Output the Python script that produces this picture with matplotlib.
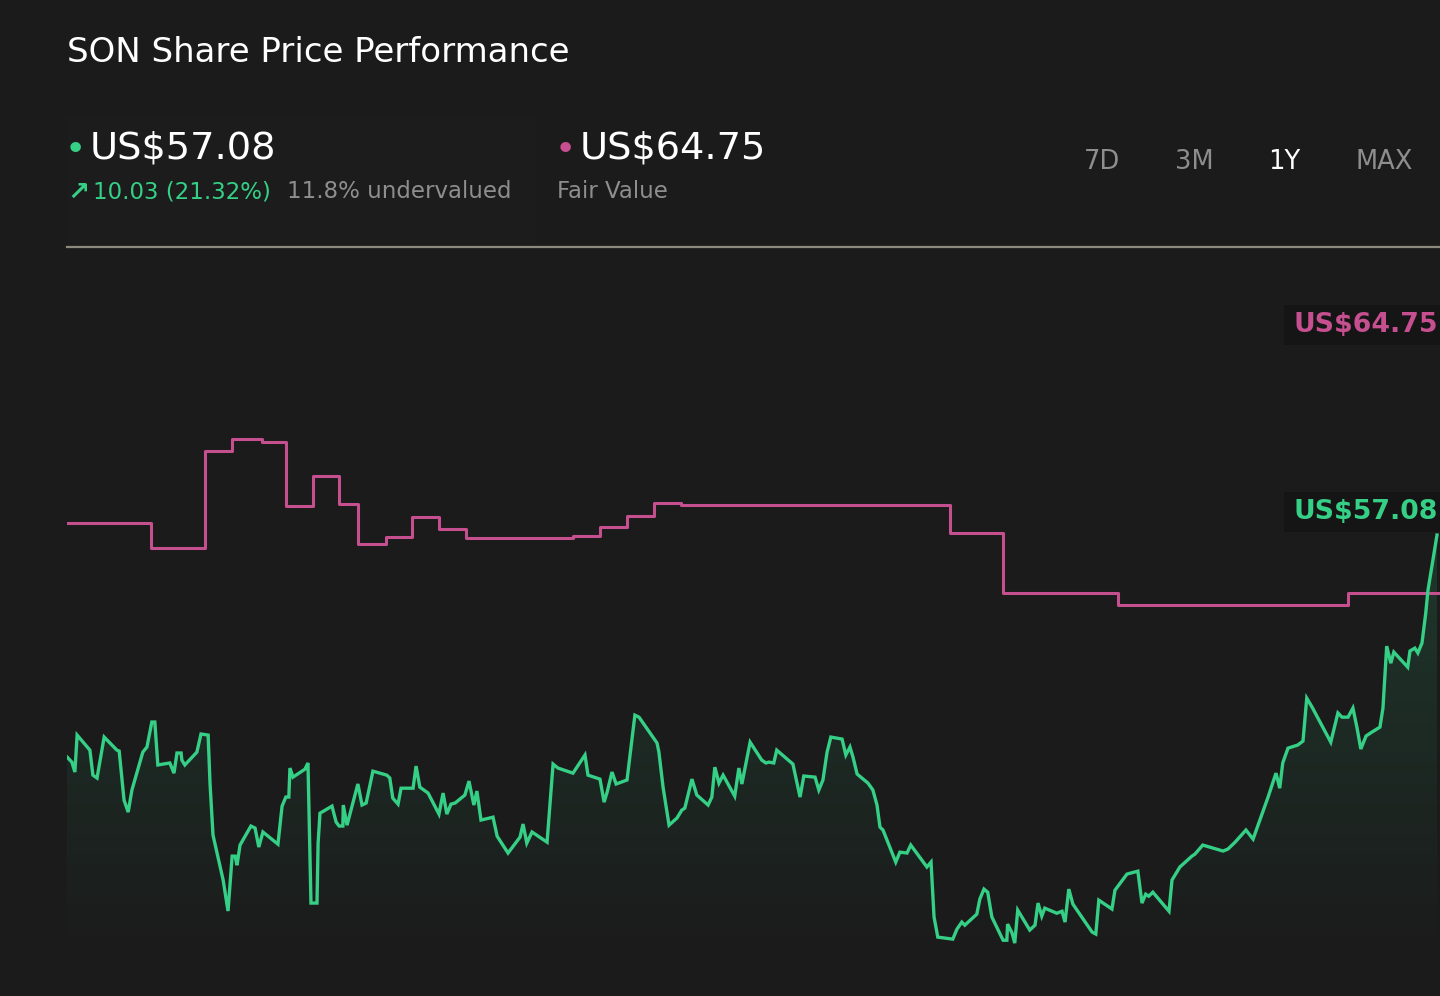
import numpy as np
import matplotlib
matplotlib.use("Agg")
import matplotlib.pyplot as plt
from matplotlib.patches import Rectangle

# ---- data ----
price_days = [0, 1.3, 2.1, 2.7, 6.1, 6.9, 8.0, 9.9, 13.3, 13.9, 15.2, 16.3, 17.3, 20.2, 21.3,
              22.6, 23.4, 24.2, 27.4, 28.5, 29.3, 30.4, 30.6, 31.4, 34.6, 35.7, 37.6, 38.1,
              38.9, 41.6, 42.9, 44.0, 44.8, 45.3, 46.1, 49.0, 50.1, 51.1, 52.2, 56.2, 57.3,
              58.3, 59.1, 59.4, 60.2, 63.4, 64.2, 65.0, 66.6, 66.9, 67.4, 70.6, 71.7, 72.5,
              73.5, 73.6, 74.6, 77.5, 78.6, 79.7, 81.5, 85.2, 86.0, 86.8, 88.2, 89.0, 92.2,
              93.0, 94.0, 96.2, 99.1, 100.2, 101.2, 102.3, 103.4, 106.0, 107.1, 108.4, 109.2,
              110.3, 113.5, 114.6, 117.5, 120.7, 121.5, 122.5, 123.9, 127.9, 129.5, 130.8,
              134.8, 138.0, 138.8, 142.0, 143.1, 143.9, 145.2, 146.3, 149.2, 151.3, 152.4,
              156.1, 157.2, 157.7, 158.8, 160.4, 162.5, 163.8, 164.6, 166.5, 167.8, 170.8,
              171.8, 172.6, 173.7, 174.8, 177.9, 179.0, 179.8, 182.0, 185.1, 186.2, 187.0,
              188.3, 189.1, 193.4, 195.3, 196.3, 199.3, 200.3, 201.4, 202.5, 203.5, 206.5,
              207.5, 208.6, 209.4, 210.5, 213.4, 214.7, 215.8, 216.6, 217.4, 220.8, 221.9,
              223.8, 224.8, 229.1, 230.2, 231.0, 232.0, 236.0, 237.1, 238.4, 239.2, 242.4,
              243.2, 244.3, 245.3, 246.4, 249.4, 250.4, 250.6, 251.8, 252.5, 253.3, 256.5,
              257.9, 258.7, 259.7, 260.5, 263.7, 265.1, 265.9, 266.9, 268.0, 273.1, 274.1,
              274.9, 278.4, 279.2, 282.4, 285.3, 286.4, 287.4, 288.2, 289.3, 293.6, 294.4,
              296.5, 299.7, 300.5, 302.6, 308.0, 309.3, 311.2, 314.1, 316.0, 320.0, 322.1,
              323.1, 323.9, 325.3, 327.9, 329.3, 330.3, 331.7, 336.7, 338.6, 339.7, 341.3,
              342.6, 343.7, 344.7, 346.1, 347.7, 349.8, 350.6, 351.6, 352.7, 353.5, 357.2,
              357.8, 359.1, 359.9, 361.0, 362.0, 362.6, 365.0]
price_vals = [47.05, 46.82, 46.37, 48.04, 47.36, 46.23, 46.10, 47.95, 47.36, 47.32, 45.10,
              44.56, 45.56, 47.27, 47.50, 48.63, 48.63, 46.69, 46.78, 46.32, 47.23, 47.23,
              46.91, 46.69, 47.27, 48.09, 48.04, 45.87, 43.52, 41.49, 40.09, 42.57, 42.57,
              42.16, 43.07, 43.93, 43.84, 42.98, 43.66, 43.11, 44.83, 45.24, 45.24, 46.55,
              46.14, 46.50, 46.78, 40.45, 40.45, 43.16, 44.51, 44.83, 44.11, 43.93, 43.93,
              44.88, 43.97, 45.83, 44.88, 44.97, 46.41, 46.23, 46.10, 45.19, 44.92, 45.64,
              45.64, 46.64, 45.69, 45.42, 44.47, 45.42, 44.47, 44.92, 44.97, 45.33, 45.96,
              44.88, 45.51, 44.20, 44.33, 43.47, 42.71, 43.43, 44.02, 43.16, 43.66, 43.20,
              46.73, 46.55, 46.32, 47.14, 46.23, 46.05, 45.01, 45.46, 46.37, 45.83, 46.01,
              48.94, 48.85, 47.95, 47.68, 47.27, 45.69, 43.97, 44.29, 44.65, 44.74, 46.05,
              45.33, 44.88, 45.24, 46.59, 45.87, 46.23, 45.28, 46.55, 45.83, 47.72, 46.91,
              46.78, 46.82, 46.78, 47.36, 46.73, 45.24, 46.19, 46.14, 45.56, 46.01, 47.27,
              47.95, 47.86, 47.14, 47.50, 47.05, 46.28, 45.87, 45.56, 44.88, 43.88, 43.75,
              42.30, 42.75, 42.71, 43.07, 42.08, 42.30, 39.82, 38.91, 38.82, 39.27, 39.59,
              39.45, 39.95, 40.63, 41.08, 40.94, 39.82, 38.77, 38.77, 39.50, 39.09, 38.64,
              40.13, 39.23, 39.45, 40.45, 39.86, 40.22, 39.99, 40.08, 39.59, 41.08, 40.40,
              39.14, 39.05, 40.58, 40.18, 41.03, 41.76, 41.89, 40.45, 40.85, 40.76, 40.94,
              40.08, 41.49, 42.08, 42.57, 42.66, 43.07, 42.80, 42.89, 43.20, 43.75, 43.34,
              45.24, 46.32, 45.64, 46.78, 47.45, 47.59, 47.77, 49.71, 49.31, 47.72, 49.04,
              48.85, 48.85, 49.26, 48.36, 47.41, 48.00, 48.18, 48.40, 49.26, 52.06, 51.29,
              51.79, 51.11, 51.84, 51.97, 51.75, 52.20, 53.55, 54.59, 57.08]

fv_days = [0, 22.4, 36.8, 44.0, 51.9, 58.3, 65.5, 72.4, 77.5, 85.0, 91.9, 99.1, 106.3,
           134.8, 142.0, 149.2, 156.4, 163.6, 235.2, 249.4, 280.0, 341.3]
fv_vals = [57.62, 56.49, 60.88, 61.42, 61.28, 58.39, 59.75, 58.48, 56.67, 56.99, 57.89,
           57.35, 56.94, 57.03, 57.44, 57.94, 58.53, 58.44, 57.17, 54.46, 53.92, 54.46]
period_end = 365.8

last_price = "US$57.08"
fair_value = "US$64.75"
change_text = "10.03 (21.32%)"
valuation_text = "11.8% undervalued"
ranges = ["7D", "3M", "1Y", "MAX"]
active_range = "1Y"

# ---- style ----
BG = "#1b1b1b"
GREEN = "#35cf86"
PINK = "#c54f8f"
GREY = "#8e8e8e"
W, H = 1440, 996

fig = plt.figure(figsize=(W / 100, H / 100), dpi=100, facecolor=BG)


def fx(px):
    return px / W


def fy(py):
    return 1 - py / H


# very faint lighter panel behind the header figures
fig.add_artist(Rectangle((fx(67), fy(247)), fx(470), 130 / H,
                         transform=fig.transFigure, facecolor="#1c1c1c",
                         edgecolor="none", zorder=0))

# chart axes: x 67..1440 px, y 250..996 px
ax = fig.add_axes([fx(67), 0, fx(W - 67), (H - 250) / H])
ax.set_facecolor("none")
ax.set_xlim(0, period_end)
ax.set_ylim(36.25, 69.96)
ax.axis("off")

# gradient fill under the price line
fill = ax.fill_between(price_days, price_vals, 36.25, color="none", lw=0)
grad = np.zeros((256, 2, 4))
grad[:, :, 0] = 0.21
grad[:, :, 1] = 0.81
grad[:, :, 2] = 0.53
grad[:, :, 3] = np.linspace(0.17, 0.0, 256)[:, None]
img = ax.imshow(grad, extent=[0, period_end, 38.0, 58.0], aspect="auto",
                origin="upper", interpolation="bilinear", zorder=1)
img.set_clip_path(fill.get_paths()[0], transform=ax.transData)

ax.plot(price_days, price_vals, color=GREEN, lw=2.4, zorder=3,
        solid_joinstyle="miter")
ax.plot(fv_days + [period_end], fv_vals + [fv_vals[-1]], color=PINK, lw=2.2,
        drawstyle="steps-post", zorder=2)

# header
fig.text(fx(67), fy(53), "SON Share Price Performance", color="white",
         fontsize=24.5, va="center", ha="left")

fig.text(fx(65), fy(150), "•", color=GREEN, fontsize=26, va="center")
fig.text(fx(90), fy(148), last_price, color="white", fontsize=27.6, va="center")
fig.text(fx(67), fy(193), "↗", color=GREEN, fontsize=19, va="center",
         fontweight="bold")
fig.text(fx(93), fy(192), change_text, color=GREEN, fontsize=16.5, va="center")
fig.text(fx(287), fy(192), valuation_text, color=GREY, fontsize=16.5, va="center")

fig.text(fx(555), fy(150), "•", color=PINK, fontsize=26, va="center")
fig.text(fx(580), fy(148), fair_value, color="white", fontsize=27.6, va="center")
fig.text(fx(557), fy(192), "Fair Value", color=GREY, fontsize=16.5, va="center")

range_x = [1102, 1194, 1284, 1384]
for lab, px in zip(ranges, range_x):
    fig.text(fx(px), fy(162), lab, color="white" if lab == active_range else GREY,
             fontsize=18.5, ha="center", va="center")

fig.add_artist(plt.Line2D([fx(67), 1], [fy(247), fy(247)], color="#8b8a7c",
                          lw=1.6, transform=fig.transFigure))

# end labels
for txt, col, cy in [(fair_value, PINK, 325), (last_price, GREEN, 512)]:
    fig.add_artist(Rectangle((fx(1284), fy(cy + 20)), fx(W - 1284), 40 / H,
                             transform=fig.transFigure, facecolor="#151515",
                             edgecolor="none", zorder=4))
    fig.text(fx(1293), fy(cy), txt, color=col, fontsize=19.3, fontweight="bold",
             ha="left", va="center", zorder=5)

fig.savefig("out.png", dpi=100, facecolor=BG)
